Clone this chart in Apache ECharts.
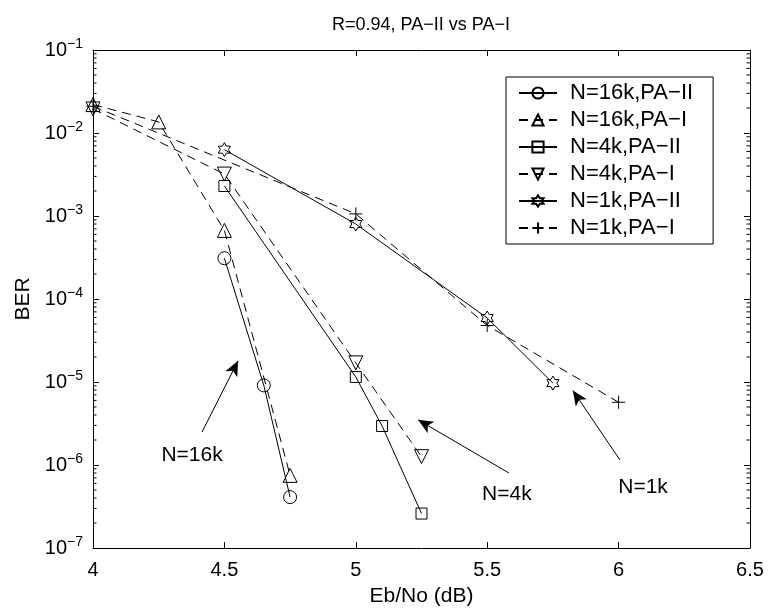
<!DOCTYPE html>
<html><head><meta charset="utf-8">
<script src="https://cdn.jsdelivr.net/npm/echarts@6/dist/echarts.min.js"></script>
<style>html,body{margin:0;padding:0;background:#fff}#c{width:770px;height:612px}</style>
</head><body><div id="c"></div>
<script>
// ---- data ----
const titleText = 'R=0.94, PA\u2212II vs PA\u2212I';
const xName = 'Eb/No (dB)';
const yName = 'BER';
const xTicks = [4, 4.5, 5, 5.5, 6, 6.5];
const yTickExps = [-7, -6, -5, -4, -3, -2, -1];
const seriesNames = ['N=16k,PA\u2212II', 'N=16k,PA\u2212I', 'N=4k,PA\u2212II', 'N=4k,PA\u2212I', 'N=1k,PA\u2212II', 'N=1k,PA\u2212I'];
const x16kPA2 = [4.5, 4.65, 4.75];
const y16kPA2 = [3.1e-4, 9.1e-6, 4.1e-7];
const x16kPA1 = [4.0, 4.25, 4.5, 4.75];
const y16kPA1 = [2.2e-2, 1.36e-2, 6.7e-4, 7.5e-7];
const x4kPA2 = [4.5, 5.0, 5.1, 5.25];
const y4kPA2 = [2.3e-3, 1.15e-5, 2.95e-6, 2.6e-7];
const x4kPA1 = [4.0, 4.5, 5.0, 5.25];
const y4kPA1 = [1.95e-2, 3.2e-3, 1.7e-5, 1.26e-6];
const x1kPA2 = [4.5, 5.0, 5.5, 5.75];
const y1kPA2 = [6.3e-3, 8.0e-4, 5.9e-5, 9.7e-6];
const x1kPA1 = [4.0, 5.0, 5.5, 6.0];
const y1kPA1 = [2.1e-2, 1.06e-3, 4.8e-5, 5.7e-6];
// annotations: label text, label position, arrow tail, arrow head (data space)
const annoText = ['N=16k', 'N=4k', 'N=1k'];
const annoTextX = [4.377, 5.575, 6.093];
const annoTextY = [1.3e-6, 4.4e-7, 5.4e-7];
const arrowTailX = [4.415, 5.583, 6.005];
const arrowTailY = [2.5e-6, 8.0e-7, 1.15e-6];
const arrowHeadX = [4.552, 5.237, 5.826];
const arrowHeadY = [1.8e-5, 3.5e-6, 7.9e-6];

// ---- chart ----
const FONT = 'Liberation Sans, Arial, Helvetica, sans-serif';
const zip = (xs, ys) => xs.map((x, i) => [x, ys[i]]);

function hexagramPath() {
  const pts = [];
  for (let i = 0; i < 12; i++) {
    const a = (-90 + i * 30) * Math.PI / 180;
    const r = (i % 2 === 0) ? 10 : 10 / Math.sqrt(3);
    pts.push((10 + r * Math.cos(a)).toFixed(3) + ',' + (10 + r * Math.sin(a)).toFixed(3));
  }
  return 'path://M' + pts.join(' L') + ' Z';
}
const plusPath = 'path://M5,0 L5,10 M0,5 L10,5';

const markerDefs = [
  { symbol: 'circle', size: 13, rotate: 0, dash: 'solid' },
  { symbol: 'triangle', size: 14, rotate: 0, dash: [9, 6] },
  { symbol: 'rect', size: 11, rotate: 0, dash: 'solid' },
  { symbol: 'triangle', size: 14, rotate: 180, dash: [9, 6] },
  { symbol: hexagramPath(), size: 14, rotate: 0, dash: 'solid' },
  { symbol: plusPath, size: 13, rotate: 0, dash: [9, 6] }
];
const seriesData = [
  zip(x16kPA2, y16kPA2), zip(x16kPA1, y16kPA1), zip(x4kPA2, y4kPA2),
  zip(x4kPA1, y4kPA1), zip(x1kPA2, y1kPA2), zip(x1kPA1, y1kPA1)
];

const series = seriesNames.map((name, i) => ({
  name, type: 'line', data: seriesData[i],
  symbol: markerDefs[i].symbol, symbolSize: markerDefs[i].size,
  symbolRotate: markerDefs[i].rotate, symbolKeepAspect: true,
  showAllSymbol: true,
  itemStyle: { color: 'rgba(0,0,0,0)', borderColor: '#000', borderWidth: 1 },
  lineStyle: { color: '#000', width: 1, type: markerDefs[i].dash },
  emphasis: { disabled: true }, z: 3
}));

// minor log ticks (axis decoration)
const minorVals = [];
for (let e = -7; e <= -2; e++) for (let m = 2; m <= 9; m++) minorVals.push(m * Math.pow(10, e));
series.push({
  name: 'minor', type: 'custom', silent: true, z: 5,
  data: minorVals.map(v => [4, v]),
  encode: { x: 0, y: 1 },
  renderItem: (params, api) => {
    const v = api.value(1);
    const p = api.coord([4, v]);
    const q = api.coord([6.5, v]);
    return { type: 'group', children: [
      { type: 'line', shape: { x1: p[0], y1: p[1], x2: p[0] + 3.5, y2: p[1] }, style: { stroke: '#000', lineWidth: 1 } },
      { type: 'line', shape: { x1: q[0] - 3.5, y1: q[1], x2: q[0], y2: q[1] }, style: { stroke: '#000', lineWidth: 1 } }
    ] };
  }
});

// arrows
series.push({
  name: 'arrows', type: 'line', data: [], silent: true,
  markLine: {
    silent: true, animation: false,
    symbol: ['none', 'arrow'], symbolSize: [10, 15],
    label: { show: false },
    lineStyle: { color: '#000', width: 1, type: 'solid', opacity: 1 },
    itemStyle: { color: '#000' },
    emphasis: { disabled: true },
    data: annoText.map((t, i) => [
      { coord: [arrowTailX[i], arrowTailY[i]] },
      { coord: [arrowHeadX[i], arrowHeadY[i]] }
    ])
  }
});
// annotation texts
series.push({
  name: 'annot', type: 'scatter', silent: true, symbolSize: 0,
  itemStyle: { color: '#000', opacity: 1 },
  data: annoText.map((t, i) => [annoTextX[i], annoTextY[i], t]),
  label: { show: true, position: 'inside', formatter: p => p.data[2], color: '#000', opacity: 1,
           textBorderWidth: 0, fontSize: 21, fontFamily: FONT }
});

const axisLineStyle = { color: '#000', width: 1 };
const option = {
  animation: false,
  backgroundColor: '#fff',
  title: {
    text: titleText, left: 421, top: 16, textAlign: 'center', padding: 0,
    textStyle: { fontSize: 18, fontWeight: 'normal', color: '#000', fontFamily: FONT }
  },
  grid: { left: 93, right: 20, top: 50, bottom: 64 },
  legend: {
    data: seriesNames, orient: 'vertical', left: 506, top: 77,
    borderColor: '#000', borderWidth: 1, padding: [5, 20, 5, 12],
    itemWidth: 38, itemHeight: 14, itemGap: 5,
    textStyle: { fontSize: 22, color: '#000', fontFamily: FONT, lineHeight: 22, padding: [0, 0, 0, 8] },
    backgroundColor: '#fff', selectedMode: false
  },
  xAxis: [
    { type: 'value', min: 4, max: 6.5, interval: 0.5, position: 'bottom',
      name: xName, nameLocation: 'middle', nameGap: 38,
      nameTextStyle: { fontSize: 21, color: '#000', fontFamily: FONT },
      axisLine: { lineStyle: axisLineStyle }, axisTick: { inside: true, length: 6, lineStyle: axisLineStyle },
      axisLabel: { color: '#000', fontSize: 20, fontFamily: FONT, margin: 12, formatter: v => String(v) },
      splitLine: { show: false } },
    { type: 'value', min: 4, max: 6.5, interval: 0.5, position: 'top',
      axisLine: { lineStyle: axisLineStyle }, axisTick: { inside: true, length: 6, lineStyle: axisLineStyle },
      axisLabel: { show: false }, splitLine: { show: false } }
  ],
  yAxis: [
    { type: 'log', logBase: 10, min: 1e-7, max: 1e-1, splitNumber: 6, position: 'left',
      name: yName, nameLocation: 'middle', nameGap: 52,
      nameTextStyle: { fontSize: 21, color: '#000', fontFamily: FONT },
      axisLine: { lineStyle: axisLineStyle }, axisTick: { inside: true, length: 6, lineStyle: axisLineStyle },
      axisLabel: {
        margin: 10, fontFamily: FONT,
        formatter: v => { const e = Math.round(Math.log10(v)); return '{b|10}{e|' + (e < 0 ? '\u2212' : '') + Math.abs(e) + '}'; },
        rich: {
          b: { fontSize: 20, color: '#000', fontFamily: FONT },
          e: { fontSize: 14, color: '#000', fontFamily: FONT, verticalAlign: 'top', padding: [0, 0, 11, 0] }
        }
      },
      splitLine: { show: false } },
    { type: 'log', logBase: 10, min: 1e-7, max: 1e-1, splitNumber: 6, position: 'right',
      axisLine: { lineStyle: axisLineStyle }, axisTick: { inside: true, length: 6, lineStyle: axisLineStyle },
      axisLabel: { show: false }, splitLine: { show: false } }
  ],
  series
};
const chart = echarts.init(document.getElementById('c'), null, { renderer: 'canvas' });
chart.setOption(option);
</script></body></html>
